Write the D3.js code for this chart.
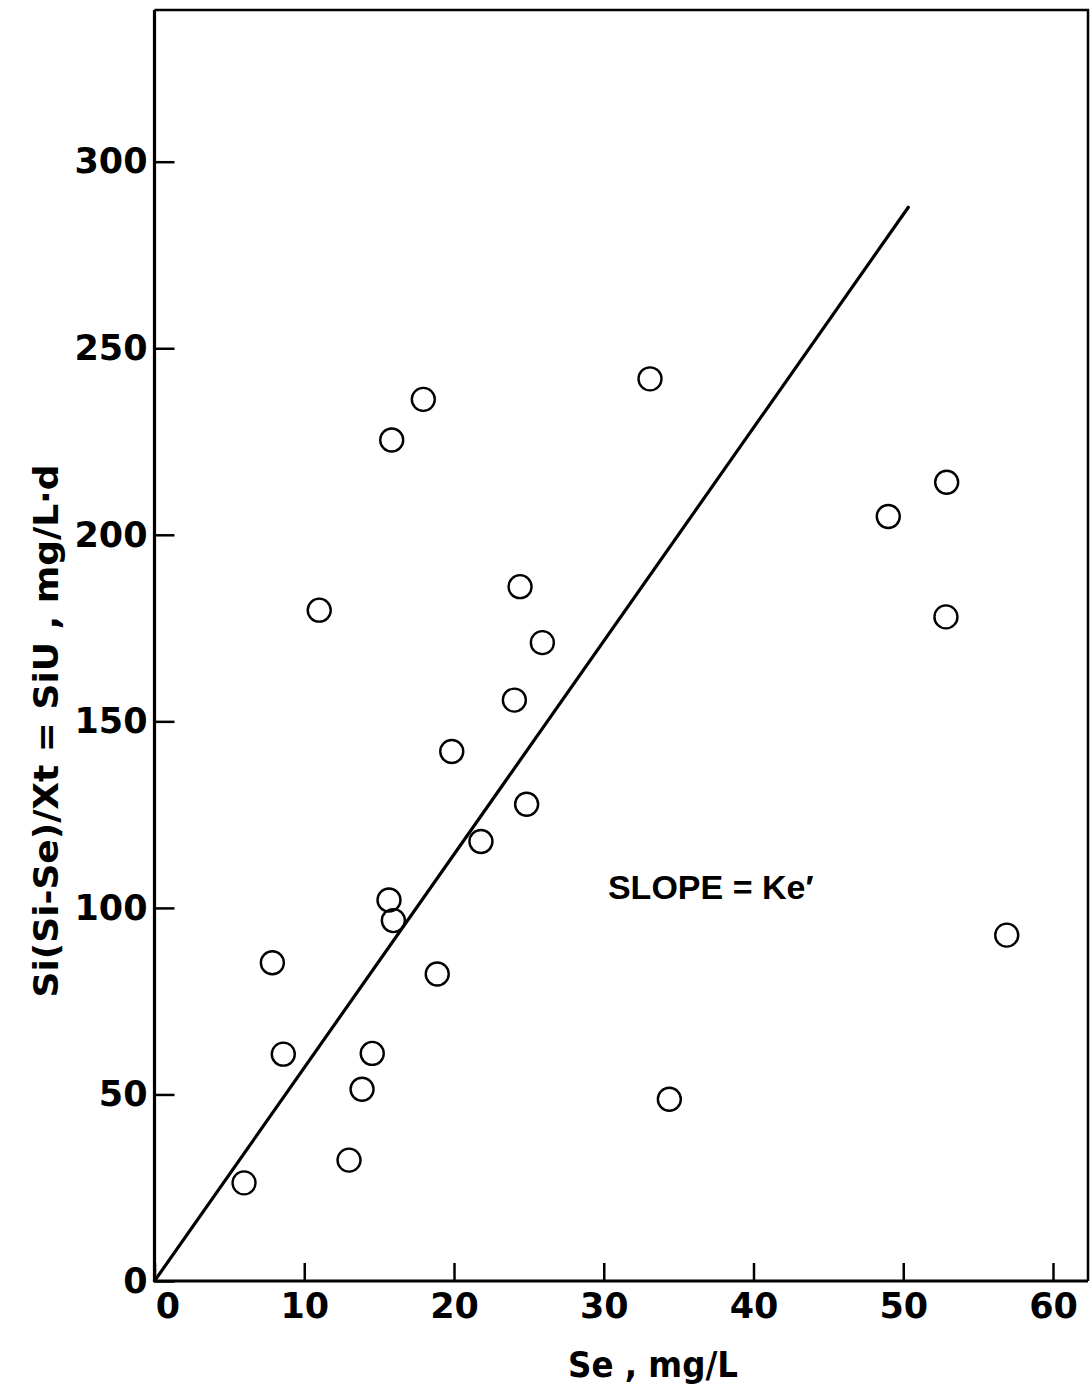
<!DOCTYPE html>
<html>
<head>
<meta charset="utf-8">
<script src="https://cdn.jsdelivr.net/npm/d3@7"></script>
<style>
  body { margin: 0; background: #fff; }
  svg { display: block; }
  .axis text { font-family: "DejaVu Sans", sans-serif; font-weight: bold; font-size: 35px; fill: #000; }
  .axis line { stroke: #000; stroke-width: 2.5; }
  .axis path { stroke: #000; stroke-width: 3.2; }
</style>
</head>
<body>
<svg width="1090" height="1385"></svg>
<script>
// Se, mg/L
const se = [5.98, 7.87, 8.60, 11.0, 12.99, 13.86, 14.54, 15.66, 15.95, 15.84, 17.95, 18.88,
            19.85, 21.80, 24.03, 24.41, 24.85, 25.90, 33.09, 34.38, 49.00, 52.90, 52.85, 56.91];
// Si(Si-Se)/Xt = SiU, mg/L.d
const siu = [26.3, 85.3, 60.8, 179.8, 32.4, 51.4, 61.0, 102.1, 96.6, 225.4, 236.3, 82.3,
             141.9, 117.8, 155.7, 186.1, 127.8, 171.1, 241.8, 48.7, 204.9, 214.1, 178.0, 92.7];
// fitted line, from the origin
const lineSe = [0, 50.34];
const lineSiu = [0, 287.8];
const xTicks = [0, 10, 20, 30, 40, 50, 60];
const yTicks = [0, 50, 100, 150, 200, 250, 300];

const svg = d3.select('svg');

const x = d3.scaleLinear().domain([0, 60]).range([154.5, 1053]);
const y = d3.scaleLinear().domain([0, 300]).range([1281, 161.7]);
const frameTop = 10, frameRight = 1088;

// frame: top and right sides
svg.append("path")
    .attr("d", `M${x(0)},${frameTop}H${frameRight}V${y(0)}`)
    .attr("fill", "none")
    .attr("stroke", "#000")
    .attr("stroke-width", 2.5);

svg.append("path")
    .attr("d", `M${x(0)},${frameTop}V${y(0)}`)
    .attr("stroke", "#000")
    .attr("stroke-width", 3.2);

const xAxis = d3.axisBottom(x)
    .tickValues(xTicks)
    .tickSizeInner(-18)
    .tickSizeOuter(0)
    .tickPadding(12);

const gx = svg.append("g")
    .attr("class", "x axis")
    .attr("transform", `translate(0,${y(0)})`)
    .call(xAxis);
gx.select(".domain").attr("d", `M${x(0)},0H${frameRight}`);
gx.selectAll(".tick").filter(d => d === 0).select("text").attr("dx", 13);

const yAxis = d3.axisLeft(y)
    .tickValues(yTicks)
    .tickSizeInner(-20)
    .tickSizeOuter(0)
    .tickPadding(7);

const gy = svg.append("g")
    .attr("class", "y axis")
    .attr("transform", `translate(${x(0)},0)`)
    .call(yAxis);
gy.select(".domain").remove();

// fitted line
const line = d3.line()
    .x(d => x(d[0]))
    .y(d => y(d[1]));

svg.append("path")
    .datum(d3.zip(lineSe, lineSiu))
    .attr("d", line)
    .attr("fill", "none")
    .attr("stroke", "#000")
    .attr("stroke-width", 3.2)
    .attr("stroke-linecap", "round");

// points
svg.selectAll(".pt").data(d3.zip(se, siu))
    .enter()
    .append("circle")
    .attr("class", "pt")
    .attr("cx", d => x(d[0]))
    .attr("cy", d => y(d[1]))
    .attr("r", 11.5)
    .attr("fill", "none")
    .attr("stroke", "#000")
    .attr("stroke-width", 2.4);

// annotation
svg.append("text")
    .attr("x", x(30.28))
    .attr("y", y(102.4))
    .attr("font-family", "Liberation Sans, Arial, sans-serif")
    .attr("font-weight", "bold")
    .attr("font-size", 34)
    .text("SLOPE = Ke′");

// axis titles
svg.append("text")
    .attr("x", 653)
    .attr("y", 1377)
    .attr("text-anchor", "middle")
    .attr("font-family", "DejaVu Sans, sans-serif")
    .attr("font-weight", "bold")
    .attr("font-size", 36)
    .attr("textLength", 170)
    .attr("lengthAdjust", "spacingAndGlyphs")
    .text("Se , mg/L");

svg.append("text")
    .attr("transform", "translate(58,731) rotate(-90)")
    .attr("text-anchor", "middle")
    .attr("font-family", "DejaVu Sans, sans-serif")
    .attr("font-weight", "bold")
    .attr("font-size", 33)
    .attr("textLength", 533)
    .attr("lengthAdjust", "spacingAndGlyphs")
    .text("Si(Si-Se)/Xt = SiU , mg/L·d");
</script>
</body>
</html>
